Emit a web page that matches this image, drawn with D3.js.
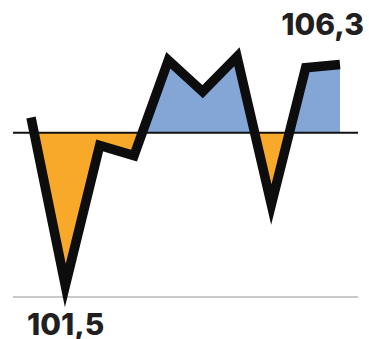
<!DOCTYPE html>
<html>
<head>
<meta charset="utf-8">
<script src="https://cdn.jsdelivr.net/npm/d3@7"></script>
<style>
  body { margin: 0; background: #fff; }
  svg { display: block; }
</style>
</head>
<body>
<svg id="chart"></svg>
<script>
// data
const periods = [0, 1, 2, 3, 4, 5, 6, 7, 8, 9];
const values = [105.15, 101.5, 104.54, 104.32, 106.39, 105.71, 106.47, 103.26, 106.23, 106.3];
const baseValue = 104.82;
const labels = [
    { index: 9, text: "106,3" },
    { index: 1, text: "101,5" }
];

const width = 369;
const height = 339;

const svg = d3.select("#chart")
    .attr("width", width)
    .attr("height", height);

const x = d3.scaleLinear()
    .domain([0, periods.length - 1])
    .range([31, 340]);

const y = d3.scaleLinear()
    .domain([101.25, 106.5])
    .range([297, 297 - 5.25 * 46.04]);

const data = periods.map((p, i) => ({ p: p, v: values[i] }));
const yBase = y(baseValue);

const defs = svg.append("defs");
defs.append("clipPath").attr("id", "above")
    .append("rect")
    .attr("x", 0).attr("y", 0)
    .attr("width", width).attr("height", yBase);
defs.append("clipPath").attr("id", "below")
    .append("rect")
    .attr("x", 0).attr("y", yBase)
    .attr("width", width).attr("height", height - yBase);

const area = d3.area()
    .x(d => x(d.p))
    .y0(yBase)
    .y1(d => y(d.v));

svg.append("path")
    .datum(data)
    .attr("d", area)
    .attr("fill", "#84a6d7")
    .attr("clip-path", "url(#above)");

svg.append("path")
    .datum(data)
    .attr("d", area)
    .attr("fill", "#f9a929")
    .attr("clip-path", "url(#below)");

// bottom axis line
svg.append("line")
    .attr("x1", 13).attr("x2", 358)
    .attr("y1", y(101.25)).attr("y2", y(101.25))
    .attr("stroke", "#c9c9c9")
    .attr("stroke-width", 2);

// reference line
svg.append("line")
    .attr("x1", 13).attr("x2", 358)
    .attr("y1", yBase).attr("y2", yBase)
    .attr("stroke", "#111")
    .attr("stroke-width", 2);

const line = d3.line()
    .x(d => x(d.p))
    .y(d => y(d.v));

svg.append("path")
    .datum(data)
    .attr("d", line)
    .attr("fill", "none")
    .attr("stroke", "#0d0d0d")
    .attr("stroke-width", 9.5)
    .attr("stroke-linejoin", "miter")
    .attr("stroke-miterlimit", 20);

svg.append("text")
    .attr("x", 364)
    .attr("y", 35)
    .attr("text-anchor", "end")
    .style("font-family", "Inter, 'DejaVu Sans', sans-serif")
    .style("font-weight", 800)
    .style("font-size", "30px")
    .attr("fill", "#231f20")
    .text(labels[0].text);

svg.append("text")
    .attr("x", 27)
    .attr("y", 335)
    .attr("text-anchor", "start")
    .style("font-family", "Inter, 'DejaVu Sans', sans-serif")
    .style("font-weight", 800)
    .style("font-size", "30px")
    .attr("fill", "#231f20")
    .text(labels[1].text);
</script>
</body>
</html>
